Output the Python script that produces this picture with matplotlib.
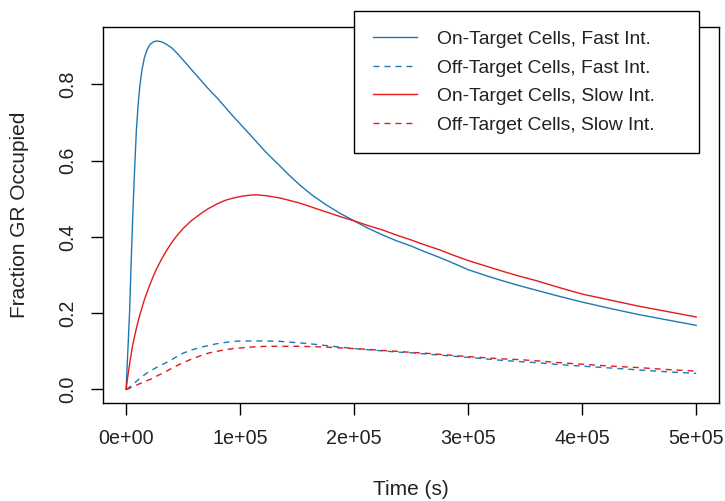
import matplotlib
matplotlib.use("Agg")
import matplotlib.pyplot as plt

plt.rcParams['font.family'] = ['Liberation Sans', 'DejaVu Sans']

# Time points (s) and fraction of GR occupied for each scenario
time_s = [0, 1500, 3000, 4500, 6000, 7500, 9000, 10500, 12000, 14000,
          16000, 18500, 21000, 24000, 27000, 31000, 35000, 40000, 45000, 50000,
          57000, 65000, 72000, 80000, 87000, 94000, 102000, 110000, 116000, 123000,
          135000, 143000, 152000, 163000, 175000, 187000, 200000, 212000, 225000, 237000,
          250000, 262000, 275000, 287000, 300000, 315000, 330000, 345000, 360000, 380000,
          400000, 425000, 450000, 475000, 500000]

on_fast = [0.0, 0.10, 0.20, 0.34, 0.47, 0.58, 0.68, 0.745, 0.795, 0.84,
           0.87, 0.892, 0.905, 0.912, 0.914, 0.912, 0.906, 0.896, 0.881, 0.864,
           0.840, 0.813, 0.789, 0.764, 0.74, 0.716, 0.69, 0.664, 0.644, 0.621,
           0.586, 0.562, 0.537, 0.51, 0.485, 0.463, 0.442, 0.423, 0.405, 0.39,
           0.376, 0.361, 0.346, 0.331, 0.314, 0.299, 0.285, 0.272, 0.260, 0.244,
           0.229, 0.212, 0.196, 0.182, 0.168]

off_fast = [0.0, 0.003, 0.006, 0.010, 0.013, 0.017, 0.021, 0.025, 0.029, 0.034,
            0.038, 0.043, 0.048, 0.053, 0.058, 0.064, 0.070, 0.078, 0.087, 0.095,
            0.103, 0.110, 0.115, 0.120, 0.123, 0.126, 0.127, 0.127, 0.127, 0.127,
            0.126, 0.124, 0.122, 0.119, 0.115, 0.111, 0.107, 0.104, 0.101, 0.098,
            0.096, 0.093, 0.090, 0.087, 0.084, 0.080, 0.076, 0.073, 0.070, 0.065,
            0.061, 0.056, 0.051, 0.046, 0.042]

on_slow = [0.0, 0.035, 0.065, 0.094, 0.12, 0.14, 0.16, 0.178, 0.195, 0.215,
           0.235, 0.256, 0.276, 0.298, 0.318, 0.341, 0.362, 0.385, 0.405, 0.422,
           0.442, 0.46, 0.474, 0.487, 0.496, 0.502, 0.507, 0.510, 0.510, 0.508,
           0.502, 0.496, 0.489, 0.478, 0.466, 0.454, 0.442, 0.43, 0.418, 0.405,
           0.392, 0.379, 0.366, 0.352, 0.338, 0.324, 0.310, 0.297, 0.285, 0.267,
           0.250, 0.234, 0.218, 0.204, 0.190]

off_slow = [0.0, 0.001, 0.003, 0.005, 0.007, 0.009, 0.011, 0.013, 0.015, 0.017,
            0.020, 0.023, 0.026, 0.030, 0.035, 0.041, 0.047, 0.055, 0.063, 0.070,
            0.079, 0.088, 0.095, 0.100, 0.104, 0.107, 0.109, 0.111, 0.112, 0.113,
            0.113, 0.113, 0.113, 0.112, 0.111, 0.109, 0.107, 0.105, 0.102, 0.100,
            0.097, 0.095, 0.092, 0.089, 0.086, 0.083, 0.080, 0.078, 0.075, 0.070,
            0.066, 0.061, 0.057, 0.052, 0.048]

series_labels = ["On-Target Cells, Fast Int.", "Off-Target Cells, Fast Int.",
                 "On-Target Cells, Slow Int.", "Off-Target Cells, Slow Int."]

x_ticks = [0, 100000, 200000, 300000, 400000, 500000]
x_tick_labels = ["0e+00", "1e+05", "2e+05", "3e+05", "4e+05", "5e+05"]
y_ticks = [0.0, 0.2, 0.4, 0.6, 0.8]
y_tick_labels = ["0.0", "0.2", "0.4", "0.6", "0.8"]

blue = "#1f78b4"
red = "#e31a1c"
text_col = "#222222"
tick_fs = 14.2
label_fs = 15.0
legend_fs = 13.9

fig = plt.figure(figsize=(7.25, 5.01), dpi=100)
ax = fig.add_axes([0.1425, 0.195, 0.8492, 0.751])

dash = (0, (4.3, 3.6))
ax.plot(time_s, on_fast, color=blue, lw=1.0, label=series_labels[0])
ax.plot(time_s, off_fast, color=blue, lw=1.0, linestyle=dash, label=series_labels[1])
ax.plot(time_s, on_slow, color=red, lw=1.0, label=series_labels[2])
ax.plot(time_s, off_slow, color=red, lw=1.0, linestyle=dash, label=series_labels[3])

# 4% padding of the data range on both axes
xmin, xmax = 0, 500000
ymin, ymax = 0.0, max(on_fast)
ax.set_xlim(xmin - 0.04 * (xmax - xmin), xmax + 0.04 * (xmax - xmin))
ax.set_ylim(ymin - 0.04 * (ymax - ymin), ymax + 0.04 * (ymax - ymin))

ax.set_xticks(x_ticks)
ax.set_xticklabels(x_tick_labels, fontsize=tick_fs)
ax.set_yticks(y_ticks)
ax.set_yticklabels(y_tick_labels, fontsize=tick_fs, rotation=90, va='center')
ax.tick_params(axis='both', direction='out', length=8.6, width=1.0,
               color='black', pad=10, labelcolor=text_col)

for sp in ax.spines.values():
    sp.set_linewidth(1.0)
    sp.set_color('black')

ax.set_xlabel("Time (s)", fontsize=label_fs, va='center', color=text_col)
ax.xaxis.set_label_coords(0.5, (403.3 - 490) / 377)
ax.set_ylabel("Fraction GR Occupied", fontsize=label_fs, va='center', color=text_col)
ax.yaxis.set_label_coords((19 - 103.3) / 615.7, 0.5)

leg = fig.legend(loc='upper left',
                 bbox_to_anchor=(354 / 725, 0.0, (699 - 354) / 725, 1 - 11 / 501),
                 mode='expand', fontsize=legend_fs, frameon=True, fancybox=False,
                 edgecolor='black', framealpha=1.0, borderpad=1.0,
                 labelspacing=0.58, handlelength=2.24, handletextpad=1.04,
                 borderaxespad=0.0)
leg.get_frame().set_linewidth(1.0)
for t in leg.get_texts():
    t.set_color(text_col)

fig.savefig("out.png", dpi=100)
